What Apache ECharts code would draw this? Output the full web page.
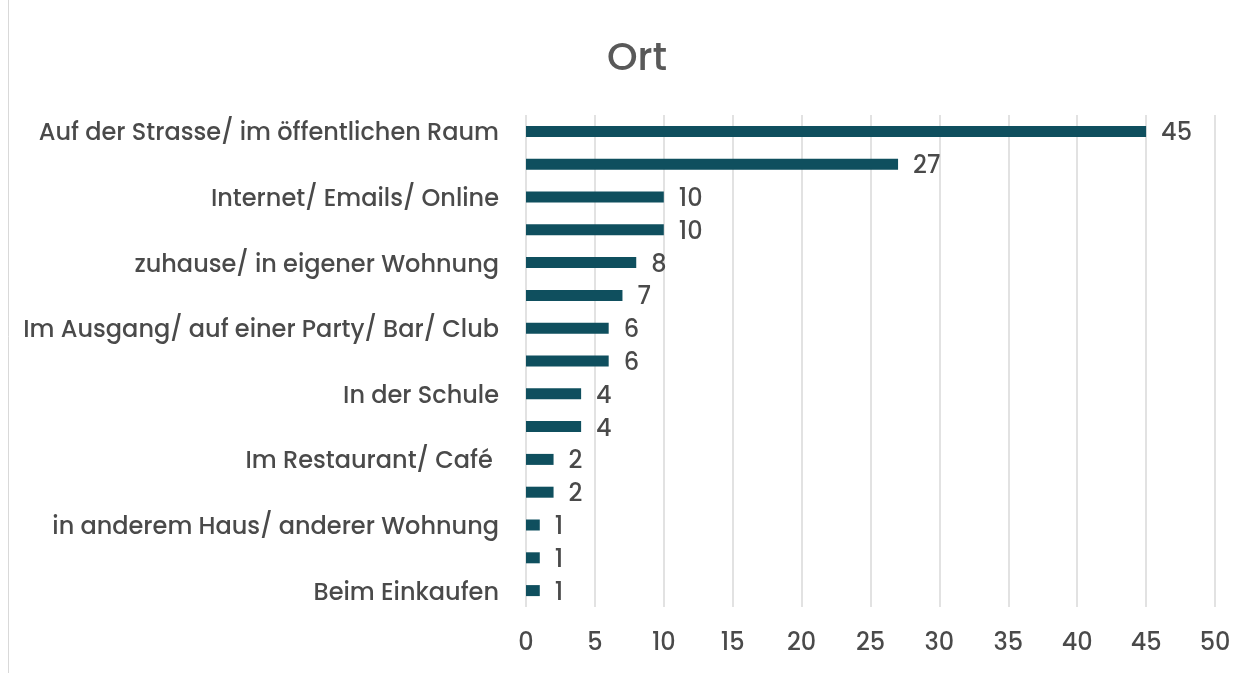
<!DOCTYPE html>
<html>
<head>
<meta charset="utf-8">
<script src="https://cdn.jsdelivr.net/npm/echarts@6/dist/echarts.min.js"></script>
<style>
  html, body { margin: 0; padding: 0; background: #fff; }
  #main { width: 1258px; height: 673px; }
</style>
</head>
<body>
<div id="main"></div>
<script>
// Kategorien (von oben nach unten); jede zweite Beschriftung ist im Original nicht sichtbar
var categories = [
    'Auf der Strasse/ im öffentlichen Raum', '',
    'Internet/ Emails/ Online', '',
    'zuhause/ in eigener Wohnung', '',
    'Im Ausgang/ auf einer Party/ Bar/ Club', '',
    'In der Schule', '',
    'Im Restaurant/ Café ', '',
    'in anderem Haus/ anderer Wohnung', '',
    'Beim Einkaufen'
];
// Anzahl Nennungen
var values = [45, 27, 10, 10, 8, 7, 6, 6, 4, 4, 2, 2, 1, 1, 1];
var xTicks = { min: 0, max: 50, interval: 5 };

var font = "Poppins, 'Noto Sans', sans-serif";
var textColor = '#4a4a4a';

var myChart = echarts.init(document.getElementById('main'));
var option = {
    backgroundColor: '#fff',
    textStyle: { fontFamily: font },
    title: {
        text: 'Ort',
        left: 632,
        textAlign: 'center',
        top: 36,
        textStyle: { fontFamily: font, fontSize: 39, fontWeight: 500, color: '#595959' }
    },
    graphic: [{
        type: 'line',
        shape: { x1: 8.5, y1: 0, x2: 8.5, y2: 673 },
        style: { stroke: '#d9d9d9', lineWidth: 1 }
    }],
    grid: { left: 526, right: 43, top: 115, bottom: 66 },
    xAxis: {
        type: 'value',
        min: xTicks.min,
        max: xTicks.max,
        interval: xTicks.interval,
        axisLine: { show: false },
        axisTick: { show: false },
        axisLabel: { color: textColor, fontSize: 24, fontWeight: 500, margin: 25, fontFamily: font },
        splitLine: { lineStyle: { color: '#d9d9d9', width: 1.5 } }
    },
    yAxis: {
        type: 'category',
        inverse: true,
        data: categories,
        axisLine: { show: false },
        axisTick: { show: false },
        axisLabel: {
            interval: 1, margin: 27,
            formatter: function (v) { return v ? '{t|' + v + '}' : ''; },
            rich: {
                t: { color: textColor, fontSize: 24, fontWeight: 500, fontFamily: font, padding: [6, 0, 0, 0] }
            }
        },
        splitLine: { show: false }
    },
    series: [{
        name: 'Ort',
        type: 'bar',
        data: values,
        barWidth: 11,
        itemStyle: { color: '#0f4f5e' },
        label: {
            show: true,
            position: 'right',
            distance: 15,
            offset: [0, 3],
            color: textColor,
            fontSize: 24,
            fontWeight: 500,
            fontFamily: font
        }
    }]
};
myChart.setOption(option);
</script>
</body>
</html>
